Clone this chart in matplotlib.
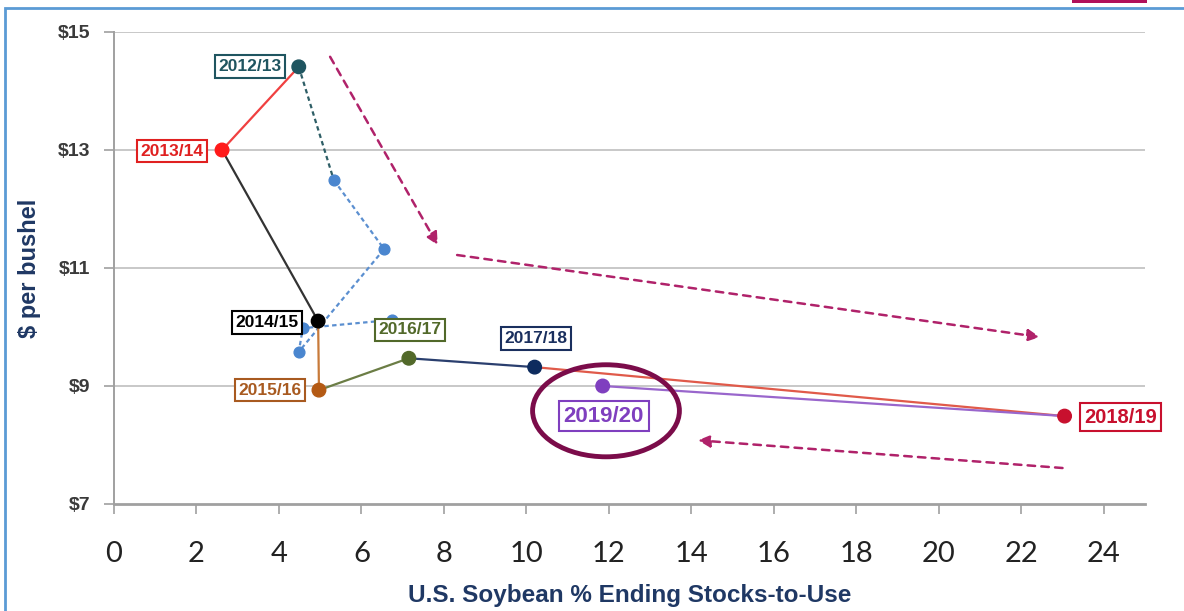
"""Soybean price vs. ending stocks-to-use, marketing years 2012/13 to 2019/20."""

import matplotlib
matplotlib.use("Agg")
import matplotlib.pyplot as plt
from matplotlib.patches import Ellipse, Rectangle

plt.rcParams["font.family"] = ["Liberation Sans", "DejaVu Sans"]

# 市场年度数据
years = ["2012/13", "2013/14", "2014/15", "2015/16", "2016/17", "2017/18", "2018/19", "2019/20"]
stocks_pct = [4.48, 2.62, 4.95, 4.97, 7.15, 10.2, 23.05, 11.85]
price = [14.41, 13.0, 10.10, 8.93, 9.47, 9.32, 8.49, 9.0]

# 2012/13 之后的月度预估（虚线）
est_x = [4.48, 5.33, 6.55, 4.48, 4.58, 6.74]
est_y = [14.41, 12.49, 11.32, 9.58, 9.98, 10.12]

x_ticks = list(range(0, 25, 2))
y_ticks = [7, 9, 11, 13, 15]

# 每个点 / 线段的颜色
point_colors = ["#1f5560", "#ff1a1a", "#000000", "#b45a14", "#52692a", "#0d2b5e", "#c8102e", "#7f3fbf"]
seg_colors = ["#f04040", "#333333", "#c87a3a", "#6b7d45", "#2a3f6e", "#e05a4a", "#9966cc"]
label_colors = ["#1f5560", "#e02020", "#000000", "#a85a20", "#52692a", "#1a2f5e", "#c8102e", "#7f3fbf"]
label_sizes = [12.5, 12.5, 12.5, 12.5, 12.5, 12.5, 14.5, 16]
# 标签位置（数据坐标）
label_x = [3.30, 1.41, 3.71, 3.78, 7.18, 10.23, 24.41, 11.88]
label_y = [14.41, 12.98, 10.08, 8.93, 9.95, 9.80, 8.47, 8.49]

ACCENT = "#b0226a"
NAVY = "#1f3864"

fig = plt.figure(figsize=(11.84, 6.11), dpi=100)
ax = fig.add_axes([114 / 1184, 1 - 504 / 611, (1145 - 114) / 1184, (504 - 32) / 611])

# 外框
fig.patches.append(Rectangle((5 / 1184, -0.05), 1.2, 1 - 8 / 611 + 0.05, transform=fig.transFigure,
                             fill=False, edgecolor="#5b9bd5", linewidth=2))
fig.patches.append(Rectangle((1072 / 1184, 1 - 3 / 611), 75 / 1184, 3 / 611, transform=fig.transFigure,
                             facecolor="#b0105a", edgecolor="none"))

ax.set_xlim(0, 25)
ax.set_ylim(7, 15)
for y in y_ticks[1:]:
    ax.axhline(y, color="#c8c8c8", linewidth=1.4, zorder=0)

# 虚线预估
ax.plot(est_x[:2], est_y[:2], color="#2e5e66", linestyle=(0, (2, 1.5)), linewidth=1.6, zorder=2)
ax.plot(est_x[1:], est_y[1:], color="#5b8fd0", linestyle=(0, (2, 1.5)), linewidth=1.6, zorder=2)
ax.scatter(est_x[1:], est_y[1:], s=60, color="#4a86cf", zorder=3)

# 实线年度路径
for i, c in enumerate(seg_colors):
    ax.plot(stocks_pct[i:i + 2], price[i:i + 2], color=c, linewidth=1.6, zorder=4)
ax.scatter(stocks_pct, price, s=95, color=point_colors, zorder=5)

for i, yr in enumerate(years):
    ax.text(label_x[i], label_y[i], yr, color=label_colors[i], fontsize=label_sizes[i],
            fontweight="bold", ha="center", va="center", zorder=6,
            bbox=dict(boxstyle="square,pad=0.22", facecolor="white", edgecolor=label_colors[i], linewidth=1.5))

ax.add_patch(Ellipse((11.93, 8.58), 3.56, 1.56, fill=False, edgecolor="#7b0c4a", linewidth=3.5, zorder=7))

# 趋势箭头
arrows = [((5.24, 14.58), (7.85, 11.39)), ((8.32, 11.22), (22.45, 9.83)), ((23.0, 7.61), (14.16, 8.08))]
for start, end in arrows:
    ax.annotate("", xy=end, xytext=start, zorder=7,
                arrowprops=dict(arrowstyle="-|>", color=ACCENT, linestyle=(0, (3, 2.5)), linewidth=1.8,
                                mutation_scale=18, shrinkA=0, shrinkB=0))

ax.set_xticks(x_ticks)
ax.set_yticks(y_ticks)
ax.set_yticklabels([f"${v}" for v in y_ticks])
ax.tick_params(axis="x", direction="out", length=7, width=1.2, color="#a0a0a0", labelsize=21, pad=20,
               labelcolor="#222222")
ax.tick_params(axis="y", direction="out", length=7, width=1.2, color="#a0a0a0", labelsize=14,
               labelcolor="#3a3a3a", pad=10)
for lab in ax.get_xticklabels():
    lab.set_fontfamily(["Lato", "DejaVu Sans"])
for lab in ax.get_yticklabels():
    lab.set_fontweight("bold")
for side in ["top", "right"]:
    ax.spines[side].set_visible(False)
ax.spines["left"].set_color("#a0a0a0")
ax.spines["bottom"].set_color("#a0a0a0")
ax.spines["left"].set_linewidth(1.4)
ax.spines["bottom"].set_linewidth(2)

ax.set_xlabel("U.S. Soybean % Ending Stocks-to-Use", fontsize=17.5, fontweight="bold", color=NAVY, labelpad=12)
ax.set_ylabel("$ per bushel", fontsize=17, fontweight="bold", color=NAVY, labelpad=12)

fig.savefig("out.png", dpi=100, facecolor="white")
